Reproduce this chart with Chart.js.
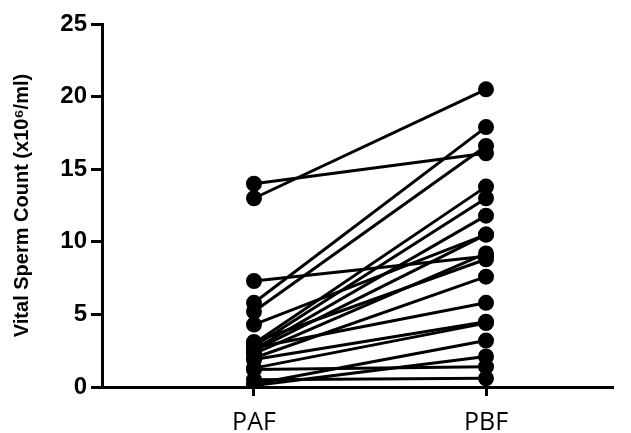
<!DOCTYPE html>
<html>
<head>
<meta charset="utf-8">
<script src="https://cdn.jsdelivr.net/npm/chart.js@4/dist/chart.umd.min.js"></script>
<style>
  html, body { margin: 0; padding: 0; background: #fff; }
  #wrap { width: 631px; height: 433px; }
</style>
</head>
<body>
<div id="wrap"><canvas id="c" width="631" height="433"></canvas></div>
<script>
// paired samples: before (PAF) and after (PBF)
const groups = ['PAF', 'PBF'];
const pafValues = [14.0, 13.0, 7.3, 5.8, 5.2, 4.3, 3.0, 2.8, 2.6, 2.5, 2.3, 2.0, 2.7, 1.9, 1.3, 1.2, 0.5, 0.1, 3.1, 0.2];
const pbfValues = [16.1, 20.5, 9.0, 17.9, 16.6, 10.5, 13.8, 13.0, 11.8, 10.5, 9.2, 7.6, 5.8, 4.5, 4.4, 1.4, 0.6, 2.1, 8.8, 3.2];
const yTicks = [0, 5, 10, 15, 20, 25];

const datasets = pafValues.map((v, i) => ({
  data: [{ x: 1, y: v }, { x: 2, y: pbfValues[i] }],
  borderColor: '#000',
  backgroundColor: '#000',
  borderWidth: 3,
  pointRadius: 6.5,
  pointHoverRadius: 6.5,
  showLine: true,
}));

new Chart(document.getElementById('c'), {
  type: 'scatter',
  data: { datasets },
  options: {
    responsive: false,
    animation: false,
    layout: { padding: { top: 24, right: 19, left: 0, bottom: 0 } },
    plugins: { legend: { display: false }, tooltip: { enabled: false } },
    scales: {
      x: {
        type: 'linear',
        min: 0.345,
        max: 2.543,
        afterBuildTicks: s => { s.ticks = [{ value: 1 }, { value: 2 }]; },
        afterFit: s => { s.height = 46; },
        grid: { drawOnChartArea: false, drawTicks: true, tickLength: 9, color: '#000', lineWidth: 3 },
        border: { display: true, color: '#000', width: 3 },
        ticks: {
          color: '#000',
          padding: 14,
          font: { family: 'Open Sans', size: 25, lineHeight: 1 },
          callback: v => groups[v - 1],
        },
      },
      y: {
        min: 0,
        max: 25,
        afterBuildTicks: s => { s.ticks = yTicks.map(v => ({ value: v })); },
        afterFit: s => { s.width = 102; },
        grid: { drawOnChartArea: false, drawTicks: true, tickLength: 11, color: '#000', lineWidth: 3 },
        border: { display: true, color: '#000', width: 3 },
        ticks: {
          color: '#000',
          padding: 4,
          font: { family: 'Liberation Sans', size: 24, weight: 'bold' },
        },
        title: {
          display: true,
          text: 'Vital Sperm Count (x10\u2076/ml)',
          color: '#000',
          padding: { top: 10, bottom: 2 },
          font: { family: 'Liberation Sans', size: 20, weight: 'bold' },
        },
      },
    },
  },
});
</script>
</body>
</html>
